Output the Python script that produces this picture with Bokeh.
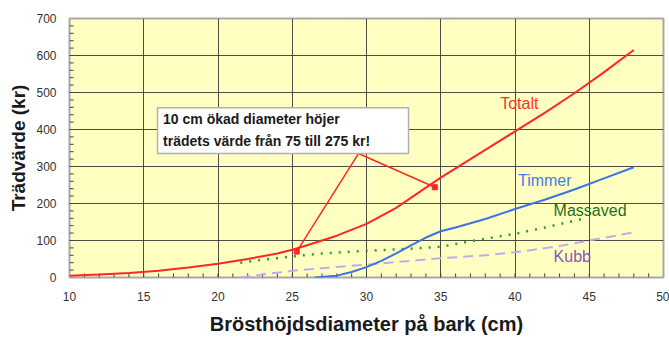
from bokeh.plotting import figure
from bokeh.models import Label, FixedTicker, Range1d
from bokeh.embed import file_html
from bokeh.resources import INLINE

# ---- data ----
totalt_x = [10, 12, 14, 16, 18, 20, 22, 24, 25, 26, 28, 30, 32, 34, 35, 36, 38, 40, 42, 44, 46, 48]
totalt_y = [5, 8, 12, 18, 27, 37, 50, 65, 75, 87, 113, 145, 188, 243, 270, 295, 345, 395, 445, 498, 555, 615]

timmer_x = [26.5, 28, 29, 30, 31, 32, 33, 34, 35, 36, 38, 40, 42, 44, 46, 48]
timmer_y = [0, 5, 15, 28, 45, 65, 87, 108, 125, 135, 158, 185, 210, 238, 268, 298]

massaved_x = [21.5, 23, 25, 27, 30, 33, 35, 37, 40, 42, 44.5]
massaved_y = [40, 48, 57, 65, 72, 78, 83, 98, 118, 135, 158]

kubb_x = [21.5, 23, 25, 27, 30, 33, 35, 38, 40, 43, 45, 48]
kubb_y = [0, 8, 18, 25, 35, 45, 52, 60, 68, 85, 100, 122]

x_ticks = [10, 15, 20, 25, 30, 35, 40, 45, 50]
y_ticks = [0, 100, 200, 300, 400, 500, 600, 700]
x_minor = list(range(11, 50))
y_minor = list(range(20, 700, 20))

FONT = "Liberation Sans"

p = figure(width=669, height=338, output_backend="svg", toolbar_location=None,
           x_range=Range1d(10, 50), y_range=Range1d(0, 700),
           min_border_left=69, min_border_right=6, min_border_top=18, min_border_bottom=61)
p.background_fill_color = "#FFFFC2"
p.border_fill_color = "white"
p.outline_line_color = "#A8A8A8"
p.outline_line_width = 2

p.xaxis.ticker = FixedTicker(ticks=x_ticks)
p.yaxis.ticker = FixedTicker(ticks=y_ticks)

for ax in (p.xaxis[0], p.yaxis[0]):
    ax.axis_line_color = None
    ax.major_tick_in = 0
    ax.major_tick_out = 0
    ax.minor_tick_in = 0
    ax.minor_tick_out = 0
    ax.major_tick_line_color = None
    ax.minor_tick_line_color = None
    ax.major_label_text_font = FONT
    ax.major_label_text_font_size = "12px"
    ax.major_label_text_color = "#333333"
    ax.axis_label_text_font = FONT
    ax.axis_label_text_font_style = "bold"
    ax.axis_label_text_color = "#1a1a1a"

p.xaxis.axis_label = "Brösthöjdsdiameter på bark (cm)"
p.yaxis.axis_label = "Trädvärde (kr)"
p.xaxis.axis_label_text_font_size = "20px"
p.yaxis.axis_label_text_font_size = "19px"
p.xaxis.major_label_standoff = 14
p.xaxis.axis_label_standoff = 9
p.yaxis.major_label_standoff = 13
p.yaxis.axis_label_standoff = 4

p.xgrid.ticker = FixedTicker(ticks=x_ticks)
p.ygrid.ticker = FixedTicker(ticks=y_ticks)
p.grid.grid_line_color = "#3a3a3a"
p.grid.grid_line_width = 1
p.grid.grid_line_alpha = 0.9

# inward minor tick marks along the bottom and left edges
p.segment(x0=x_minor, y0=[0] * len(x_minor), x1=x_minor, y1=[11] * len(x_minor),
          line_color="#444444", line_width=1)
p.segment(x0=[10] * len(y_minor), y0=y_minor, x1=[10.28] * len(y_minor), y1=y_minor,
          line_color="#444444", line_width=1)

# series
p.line(kubb_x, kubb_y, line_color="#C9A6F2", line_width=2, line_dash="10 6")
p.line(massaved_x, massaved_y, line_color="#2E9A2E", line_width=2.5, line_dash="2 7")
p.line(timmer_x, timmer_y, line_color="#3D72E6", line_width=2)
p.line(totalt_x, totalt_y, line_color="#FF2626", line_width=2)

# series labels
lbls = [("Totalt", 39.0, 470, "#FF3030"), ("Timmer", 40.2, 262, "#4A7AE6"),
        ("Massaved", 42.6, 181, "#1E6E1E"), ("Kubb", 42.6, 57, "#8A55B8")]
for t, lx, ly, c in lbls:
    p.add_layout(Label(x=lx, y=ly, text=t, text_color=c, text_font=FONT,
                       text_font_size="16px", text_baseline="middle", text_align="left"))

# annotation arrows
apex = (29.46, 335)
tips = [(25.3, 70), (34.6, 244)]
for tx, ty in tips:
    p.segment(x0=[apex[0]], y0=[apex[1]], x1=[tx], y1=[ty], line_color="#FF2626", line_width=1.5)
p.scatter([t[0] for t in tips], [t[1] for t in tips], marker="square", size=5,
          fill_color="#FF2626", line_color="#FF2626")

# annotation box
p.quad(left=[15.93], right=[32.83], bottom=[335], top=[459], fill_color="white",
       line_color="#B0B0B0", line_width=1.5)
p.add_layout(Label(x=16.3, y=428, text="10 cm ökad diameter höjer", text_font=FONT,
                   text_font_size="14px", text_font_style="bold", text_color="#1a1a1a",
                   text_baseline="middle"))
p.add_layout(Label(x=16.3, y=368, text="trädets värde från 75 till 275 kr!", text_font=FONT,
                   text_font_size="14px", text_font_style="bold", text_color="#1a1a1a",
                   text_baseline="middle"))

open("out.html", "w").write(file_html(p, INLINE))
